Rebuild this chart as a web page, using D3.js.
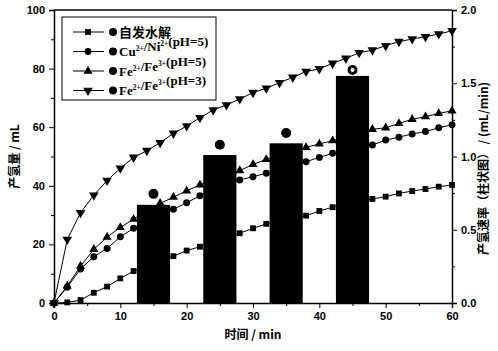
<!DOCTYPE html>
<html>
<head>
<meta charset="utf-8">
<script src="https://cdn.jsdelivr.net/npm/d3@7"></script>
<style>
  body { margin: 0; background: #fff; }
  svg { display: block; }
  .tick text { font-family: Arial, "Liberation Sans", sans-serif; font-weight: 700; font-size: 11px; }
</style>
</head>
<body>
<div id="chart"></div>
<script>
// time points every 2 min
const times = d3.range(0, 61, 2);
const seriesNames = ["自发水解", "Cu/Ni5", "Fe5", "Fe3"];
const selfHydrolysis = [0, 0.2, 1, 3.5, 5.6, 8.4, 10.9, 13, 14.8, 16, 17.9, 19.2, 21, 22.5, 23.8, 25.5, 27, 27.9, 28.9, 29.8, 31.4, 32.7, 33.8, 34.7, 35.5, 36.3, 37.4, 38.2, 38.9, 39.7, 40.3];
const cuNiPH5 = [0, 5.4, 11.6, 15.8, 18.6, 22.6, 25.5, 28, 30, 32, 34.2, 36.6, 38.6, 40.4, 42, 43.1, 44.3, 45.6, 47, 48.2, 49.7, 51.1, 52.2, 53.1, 53.9, 55.6, 56.6, 57.7, 58.5, 59.8, 60.8];
const fePH5 = [0, 5.8, 12.6, 18.3, 22.5, 25.8, 28.6, 31.6, 34, 36.1, 38.3, 40.3, 42, 43.6, 45.2, 47.3, 49, 50.5, 51.8, 53.1, 54.3, 55.4, 56.7, 58, 59.3, 59.8, 61.3, 62.7, 63.6, 64.7, 65.6];
const fePH3 = [0, 21.7, 30.8, 36.8, 41.8, 46, 49.7, 52, 54.7, 57.9, 60.4, 63.2, 65.9, 67.6, 69.6, 71.8, 73.3, 75.2, 77, 79, 79.9, 81.8, 83.5, 85.4, 86.3, 87.8, 89.2, 90.1, 90.9, 91.8, 92.9];

// bar chart of rates (right axis) and the dots above the bars
const barTimes = [15, 25, 35, 45];
const barRates = [0.67, 1.01, 1.09, 1.55];
const dotRates = [0.745, 1.08, 1.16, 1.59];

const xTicks = [0, 10, 20, 30, 40, 50, 60];
const yTicks = [0, 20, 40, 60, 80, 100];
const y2Ticks = [0, 0.5, 1.0, 1.5, 2.0];

const W = 498, H = 351;
const margin = { top: 10, right: 46, bottom: 48, left: 54 };
const w = W - margin.left - margin.right, h = H - margin.top - margin.bottom;

const svg = d3.select("#chart").append("svg").attr("width", W).attr("height", H);
const g = svg.append("g").attr("transform", `translate(${margin.left},${margin.top})`);

const x = d3.scaleLinear().domain([0, 60]).range([0, w]);
const y = d3.scaleLinear().domain([0, 100]).range([h, 0]);
const y2 = d3.scaleLinear().domain([0, 2]).range([h, 0]);

// minor ticks first
g.append("g").attr("transform", `translate(0,${h})`)
  .call(d3.axisBottom(x).tickValues(d3.range(5, 60, 10)).tickSize(3).tickFormat(""))
  .call(a => a.select(".domain").remove());
g.append("g")
  .call(d3.axisLeft(y).tickValues(d3.range(10, 100, 20)).tickSize(3).tickFormat(""))
  .call(a => a.select(".domain").remove());
g.append("g").attr("transform", `translate(${w},0)`)
  .call(d3.axisRight(y2).tickValues([0.25, 0.75, 1.25, 1.75]).tickSize(3).tickFormat(""))
  .call(a => a.select(".domain").remove());

// main axes
g.append("g").attr("transform", `translate(0,${h})`)
  .call(d3.axisBottom(x).tickValues(xTicks).tickSize(5).tickPadding(4))
  .call(a => a.select(".domain").attr("stroke-width", 1.5));
g.append("g")
  .call(d3.axisLeft(y).tickValues(yTicks).tickSize(5).tickPadding(4))
  .call(a => a.select(".domain").attr("stroke-width", 1.5));
g.append("g").attr("transform", `translate(${w},0)`)
  .call(d3.axisRight(y2).tickValues(y2Ticks).tickSize(5).tickPadding(4).tickFormat(d3.format(".1f")))
  .call(a => a.select(".domain").attr("stroke-width", 1.5));
g.append("line").attr("x1", 0).attr("x2", w).attr("y1", 0).attr("y2", 0)
  .attr("stroke", "#000").attr("stroke-width", 1.5);

// lines with markers
const series = [
  { name: seriesNames[0], values: selfHydrolysis, symbol: d3.symbolSquare, size: 34, rot: 0 },
  { name: seriesNames[1], values: cuNiPH5, symbol: d3.symbolCircle, size: 38, rot: 0 },
  { name: seriesNames[2], values: fePH5, symbol: d3.symbolTriangle, size: 36, rot: 0 },
  { name: seriesNames[3], values: fePH3, symbol: d3.symbolTriangle, size: 40, rot: 180 }
];

const line = d3.line().x((d, i) => x(times[i])).y(d => y(d));
series.forEach(s => {
  g.append("path").datum(s.values).attr("d", line)
    .attr("fill", "none").attr("stroke", "#000").attr("stroke-width", 1);
  g.selectAll(null).data(s.values).enter().append("path")
    .attr("d", d3.symbol().type(s.symbol).size(s.size))
    .attr("transform", (d, i) => `translate(${x(times[i])},${y(d)}) rotate(${s.rot})`)
    .attr("fill", "#000");
});

// bars (right axis) drawn over the lines
const barHalf = 2.5;
g.selectAll(".bar").data(barRates).enter().append("rect").attr("class", "bar")
  .attr("x", (d, i) => x(barTimes[i] - barHalf))
  .attr("width", (d, i) => x(barTimes[i] + barHalf) - x(barTimes[i] - barHalf))
  .attr("y", d => y2(d)).attr("height", d => h - y2(d))
  .attr("fill", "#000");

g.selectAll(".dot").data(dotRates).enter().append("circle").attr("class", "dot")
  .attr("cx", (d, i) => x(barTimes[i])).attr("cy", d => y2(d)).attr("r", 5)
  .attr("fill", "#000");
// the last dot shows a hollow centre
g.append("circle").attr("cx", x(barTimes[3])).attr("cy", y2(dotRates[3])).attr("r", 2)
  .attr("fill", "#fff");

// legend
const lg = g.append("g").attr("transform", "translate(8,7)");
lg.append("rect").attr("width", 154).attr("height", 83)
  .attr("fill", "#fff").attr("stroke", "#000").attr("stroke-width", 1);
const legendLabels = [
  [["自发水解", null]],
  [["Cu", null], ["2+", "sup"], ["/Ni", null], ["2+", "sup"], ["(pH=5)", null]],
  [["Fe", null], ["2+", "sup"], ["/Fe", null], ["3+", "sup"], ["(pH=5)", null]],
  [["Fe", null], ["2+", "sup"], ["/Fe", null], ["3+", "sup"], ["(pH=3)", null]]
];
series.forEach((s, i) => {
  const ly = 15 + i * 19.5;
  lg.append("line").attr("x1", 11).attr("x2", 42).attr("y1", ly).attr("y2", ly)
    .attr("stroke", "#000").attr("stroke-width", 1);
  lg.append("path").attr("d", d3.symbol().type(s.symbol).size(s.size))
    .attr("transform", `translate(26,${ly}) rotate(${s.rot})`).attr("fill", "#000");
  lg.append("circle").attr("cx", 51).attr("cy", ly).attr("r", 4).attr("fill", "#000");
  const t = lg.append("text").attr("x", 57).attr("y", ly + 4.5)
    .style("font-family", "'Liberation Serif', 'Noto Sans CJK SC', serif")
    .style("font-weight", 700).style("font-size", "13px");
  legendLabels[i].forEach(([txt, kind]) => {
    if (kind === "sup") {
      t.append("tspan").attr("dy", -5).style("font-size", "7.5px").text(txt);
      t.append("tspan").attr("dy", 5).text("");
    } else {
      t.append("tspan").text(txt);
    }
  });
});

// axis titles
svg.append("text").attr("x", margin.left + w / 2).attr("y", 339).attr("text-anchor", "middle")
  .style("font-family", "'Noto Sans CJK SC', sans-serif").style("font-weight", 700).style("font-size", "12px")
  .text("时间 / min");
svg.append("text").attr("transform", `translate(19,${margin.top + h / 2}) rotate(-90)`)
  .attr("text-anchor", "middle")
  .style("font-family", "'Noto Sans CJK SC', sans-serif").style("font-weight", 700).style("font-size", "12px")
  .text("产氢量 / mL");
svg.append("text").attr("transform", `translate(488,${margin.top + h / 2 + 12}) rotate(-90)`)
  .attr("text-anchor", "middle")
  .style("font-family", "'Noto Sans CJK SC', sans-serif").style("font-weight", 700).style("font-size", "12px")
  .text("产氢速率（柱状图） / (mL/min)");
</script>
</body>
</html>
